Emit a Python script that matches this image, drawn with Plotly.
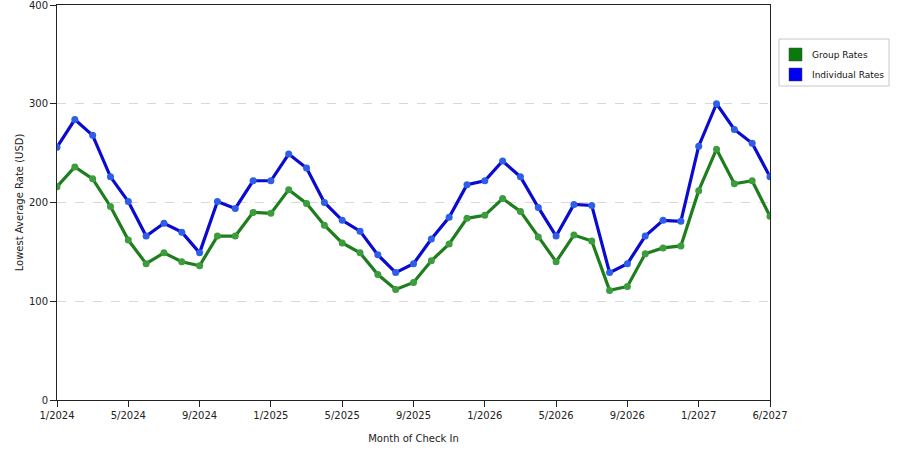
import plotly.graph_objects as go

# Meses (categorias del eje X) - falta 5/2027 en los datos originales
meses = [f"{m}/{a}" for a in (2024, 2025, 2026) for m in range(1, 13)]
meses += ["1/2027", "2/2027", "3/2027", "4/2027", "6/2027"]

tarifas_grupo = [
    216, 236, 224, 196, 162, 138, 149, 140, 136, 166, 166, 190,
    189, 213, 199, 177, 159, 149, 127, 112, 119, 141, 158, 184,
    187, 204, 191, 165, 140, 167, 161, 111, 115, 148, 154, 156,
    212, 254, 219, 222, 186,
]
tarifas_individual = [
    256, 284, 268, 226, 201, 166, 179, 170, 149, 201, 194, 222,
    222, 249, 235, 200, 182, 171, 147, 129, 138, 163, 185, 218,
    222, 242, 226, 195, 166, 198, 197, 129, 138, 166, 182, 181,
    257, 300, 274, 260, 226,
]

etiquetas_x = meses[::4]
nombres_series = ["Group Rates", "Individual Rates"]

fuente = "DejaVu Sans"

# Zona de trazado en pixeles
IZQ, DER, ARR, ABA = 57, 770, 5, 400


def px_x(p):
    return (p - IZQ) / (DER - IZQ)


def px_y(p):
    return (ABA - p) / (ABA - ARR)


fig = go.Figure()

estilos = [
    ("#1e7e1e", "#3d9c3d", "#0a7a0a"),
    ("#0a0ad0", "#2e5fe6", "#0000f0"),
]

for nombre, valores, (color_linea, color_marca, _) in zip(
        nombres_series, [tarifas_grupo, tarifas_individual], estilos):
    fig.add_trace(go.Scatter(
        x=meses,
        y=valores,
        mode="lines+markers",
        name=nombre,
        showlegend=False,
        line=dict(color=color_linea, width=3.2),
        marker=dict(size=7, color=color_marca, line=dict(width=0)),
        hoverinfo="x+y+name",
    ))

# Leyenda dibujada a mano (cuadros de color)
fig.add_shape(type="rect", xref="paper", yref="paper",
              x0=px_x(779), x1=px_x(889), y0=px_y(39), y1=px_y(86),
              line=dict(color="#c8c8c8", width=1), fillcolor="white")
for i, nombre in enumerate(nombres_series):
    arriba = 48 + i * 20
    fig.add_shape(type="rect", xref="paper", yref="paper",
                  x0=px_x(789), x1=px_x(802), y0=px_y(arriba), y1=px_y(arriba + 13),
                  line=dict(color="#444444", width=0.5), fillcolor=estilos[i][2])
    fig.add_annotation(xref="paper", yref="paper",
                       x=px_x(810), y=px_y(arriba + 6.5),
                       xanchor="left", yanchor="middle",
                       text=nombre, showarrow=False,
                       font=dict(family=fuente, size=9, color="#111111"))

fig.update_layout(
    width=900,
    height=450,
    margin=dict(l=IZQ, r=900 - DER, t=ARR, b=450 - ABA),
    plot_bgcolor="white",
    paper_bgcolor="white",
    font=dict(family=fuente, size=10, color="#222222"),
    showlegend=False,
)

fig.update_xaxes(
    type="category",
    categoryorder="array",
    categoryarray=meses,
    range=[0, len(meses) - 1],
    tickvals=etiquetas_x,
    ticktext=etiquetas_x,
    ticks="outside",
    ticklen=6,
    tickcolor="#222222",
    showline=True,
    linecolor="#222222",
    linewidth=1,
    mirror=True,
    showgrid=False,
    zeroline=False,
    automargin=False,
    tickfont=dict(size=10),
    title=dict(text="Month of Check In", font=dict(size=10), standoff=14),
)

fig.update_yaxes(
    range=[0, 400],
    tickvals=[0, 100, 200, 300, 400],
    ticks="outside",
    ticklen=6,
    tickcolor="#222222",
    ticklabeloverflow="allow",
    showline=True,
    linecolor="#222222",
    linewidth=1,
    mirror=True,
    showgrid=True,
    gridcolor="#d8d8d8",
    griddash="dash",
    gridwidth=1,
    zeroline=False,
    automargin=False,
    tickfont=dict(size=10),
    title=dict(text="Lowest Average Rate (USD)", font=dict(size=10), standoff=3),
)

# Quitar el margen del body para que el grafico quede pegado a la ventana
fig.write_html("out.html", config={"displayModeBar": False},
               post_script="document.body.style.margin='0';")
